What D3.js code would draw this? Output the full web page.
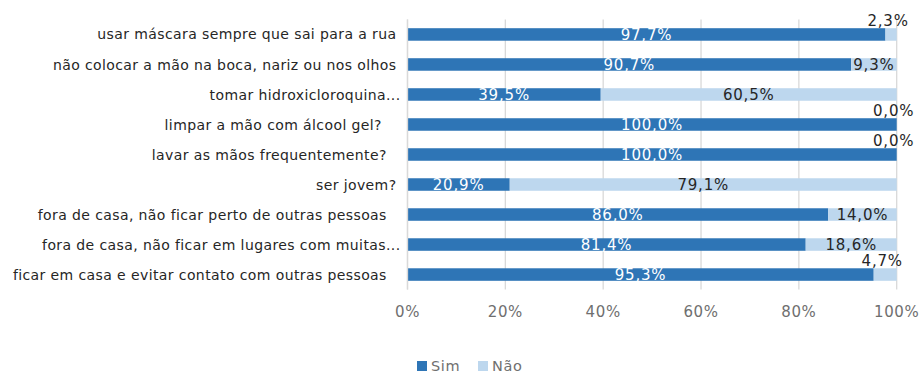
<!DOCTYPE html>
<html>
<head>
<meta charset="utf-8">
<script src="https://cdn.jsdelivr.net/npm/d3@7"></script>
<style>
  html, body { margin: 0; padding: 0; background: #fff; }
  svg { display: block; }
  text.cat { white-space: pre; }
</style>
</head>
<body>
<svg id="chart" width="919" height="373"></svg>
<script>
// Categories, top to bottom (survey texts kept as typed, trailing spaces included)
const categories = [
  "usar máscara sempre que sai para a rua",
  "não colocar a mão na boca, nariz ou nos olhos",
  "tomar hidroxicloroquina...",
  "limpar a mão com álcool gel?   ",
  "lavar as mãos frequentemente?  ",
  "ser jovem?",
  "fora de casa, não ficar perto de outras pessoas  ",
  "fora de casa, não ficar em lugares com muitas...",
  "ficar em casa e evitar contato com outras pessoas  "
];
// Share of answers (%)
const simValues = [97.7, 90.7, 39.5, 100.0, 100.0, 20.9, 86.0, 81.4, 95.3];
const naoValues = [2.3, 9.3, 60.5, 0.0, 0.0, 79.1, 14.0, 18.6, 4.7];
const seriesNames = ["Sim", "Não"];
const seriesColors = ["#2e75b6", "#bdd7ee"];
const tickValues = [0, 20, 40, 60, 80, 100];

const fmt = v => v.toFixed(1).replace(".", ",") + "%";

const svg = d3.select("#chart");
const margin = { left: 407.5, right: 22.3, top: 19.5, bottom: 83.5 };
const W = 919, H = 373;

const x = d3.scaleLinear().domain([0, 100]).range([margin.left, W - margin.right]);
const y = d3.scaleBand().domain(categories)
  .range([margin.top, H - margin.bottom])
  .paddingInner(0.583).paddingOuter(0.29);

// Vertical gridlines
svg.append("g").selectAll("line").data(tickValues).join("line")
  .attr("x1", d => x(d)).attr("x2", d => x(d))
  .attr("y1", margin.top).attr("y2", H - margin.bottom)
  .attr("stroke", "#d9d9d9").attr("stroke-width", 1.3);

// Stacked rows
const rows = categories.map((c, i) => ({ cat: c, sim: simValues[i], nao: naoValues[i] }));

const g = svg.append("g");
g.selectAll("rect.sim").data(rows).join("rect").attr("class", "sim")
  .attr("x", x(0)).attr("y", d => y(d.cat))
  .attr("width", d => x(d.sim) - x(0)).attr("height", y.bandwidth())
  .attr("fill", seriesColors[0]);
g.selectAll("rect.nao").data(rows).join("rect").attr("class", "nao")
  .attr("x", d => x(d.sim)).attr("y", d => y(d.cat))
  .attr("width", d => x(d.sim + d.nao) - x(d.sim)).attr("height", y.bandwidth())
  .attr("fill", seriesColors[1]);

// Left axis line
svg.append("line")
  .attr("x1", x(0)).attr("x2", x(0))
  .attr("y1", margin.top).attr("y2", H - margin.bottom)
  .attr("stroke", "#d9d9d9").attr("stroke-width", 1.3);

const font = "'DejaVu Sans', Verdana, sans-serif";

// Value labels
g.selectAll("text.simlab").data(rows).join("text").attr("class", "simlab")
  .attr("x", d => (x(0) + x(d.sim)) / 2)
  .attr("y", d => y(d.cat) + y.bandwidth() / 2)
  .attr("dy", "0.36em")
  .attr("text-anchor", "middle")
  .attr("font-family", font).attr("font-size", 15)
  .attr("letter-spacing", 0.8)
  .attr("fill", "#ffffff")
  .text(d => fmt(d.sim));

g.selectAll("text.naolab").data(rows).join("text").attr("class", "naolab")
  .attr("x", d => {
    const c = (x(d.sim) + x(d.sim + d.nao)) / 2;
    return d.nao < 5 ? Math.min(c - 3, x(100)) : c;
  })
  .attr("y", d => d.nao < 5 ? y(d.cat) - 8 : y(d.cat) + y.bandwidth() / 2)
  .attr("dy", "0.36em")
  .attr("text-anchor", "middle")
  .attr("font-family", font).attr("font-size", 15)
  .attr("letter-spacing", 0.8)
  .attr("fill", "#262626")
  .text(d => fmt(d.nao));

// Category labels
svg.append("g").selectAll("text").data(categories).join("text")
  .attr("class", "cat")
  .attr("x", d => d.endsWith("...") ? x(0) - 7 : x(0) - 11)
  .attr("y", d => y(d) + y.bandwidth() / 2)
  .attr("dy", "0.36em")
  .attr("text-anchor", "end")
  .attr("font-family", font).attr("font-size", 14)
  .attr("letter-spacing", 0.4)
  .attr("fill", "#262626")
  .text(d => d);

// Bottom tick labels
svg.append("g").selectAll("text").data(tickValues).join("text")
  .attr("x", d => x(d))
  .attr("y", 312)
  .attr("dy", "0.36em")
  .attr("text-anchor", "middle")
  .attr("font-family", font).attr("font-size", 15)
  .attr("letter-spacing", 0.6)
  .attr("fill", "#6f6f6f")
  .text(d => d + "%");

// Legend
const legend = svg.append("g");
const legendX = [417, 478];
seriesNames.forEach((name, i) => {
  legend.append("rect")
    .attr("x", legendX[i]).attr("y", 361)
    .attr("width", 10).attr("height", 10)
    .attr("fill", seriesColors[i]);
  legend.append("text")
    .attr("x", legendX[i] + 14).attr("y", 370.5)
    .attr("font-family", font).attr("font-size", 14.5)
    .attr("letter-spacing", 0.6)
    .attr("fill", "#6f6f6f")
    .text(name);
});
</script>
</body>
</html>
